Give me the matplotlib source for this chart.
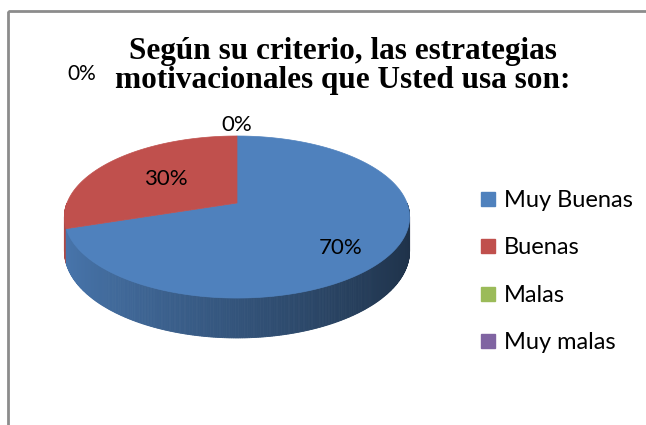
import numpy as np
import matplotlib
matplotlib.use("Agg")
import matplotlib.pyplot as plt
from matplotlib.lines import Line2D
from matplotlib.patches import Rectangle
from matplotlib.colors import to_rgb

# ---- data ----
categories = ["Muy Buenas", "Buenas", "Malas", "Muy malas"]
values = [70, 30, 0, 0]
pct_labels = ["70%", "30%", "0%", "0%"]
colors = ["#4F81BD", "#C0504D", "#9BBB59", "#8064A2"]
title = "Según su criterio, las estrategias\nmotivacionales que Usted usa son:"

# ---- layout (pixels in a 646x425 canvas) ----
W, H = 646, 425
CX, CY, A, B, K, DEPTH = 237, 203, 170, 78.6, 0.173, 33
LABEL_FONT = ["Lato", "DejaVu Sans"]

fig = plt.figure(figsize=(W / 100, H / 100), dpi=100)
ax = fig.add_axes([0, 0, 1, 1])
ax.set_xlim(0, W)
ax.set_ylim(H, 0)
ax.axis("off")

# chart frame (right/bottom cut off in the reference)
ax.add_patch(Rectangle((7.5, 10.5), W + 20, H + 20, fill=False,
                       edgecolor="#8C8C8C", linewidth=2))


def proj(t, r=1.0, z=0.0):
    u = r * np.cos(t)
    v = r * np.sin(t)
    s = 1.0 / (1.0 + K * v)
    return CX + A * u * s, CY - B * v * s + DEPTH * z * s


vals = np.array(values, dtype=float)
frac = vals / vals.sum()
cum = np.concatenate([[0], np.cumsum(frac)])
start = np.pi / 2
t_start = start - 2 * np.pi * cum[:-1]
t_end = start - 2 * np.pi * cum[1:]


def slice_of(t):
    off = ((start - t) % (2 * np.pi)) / (2 * np.pi)
    idx = np.searchsorted(cum, off, side="right") - 1
    return int(np.clip(idx, 0, len(values) - 1))


# side wall (front half), shaded left-light to right-dark
ts = np.linspace(-np.pi, 0, 361)
for t0, t1 in zip(ts[:-1], ts[1:]):
    tm = 0.5 * (t0 + t1)
    i = slice_of(tm)
    base = np.array(to_rgb(colors[i]))
    f = 0.65 - 0.27 * np.cos(tm)
    c = np.clip(base * f, 0, 1)
    x0a, y0a = proj(t0, 1, 0)
    x1a, y1a = proj(t1, 1, 0)
    x1b, y1b = proj(t1, 1, 1)
    x0b, y0b = proj(t0, 1, 1)
    ax.fill([x0a, x1a, x1b, x0b], [y0a, y1a, y1b, y0b], color=c,
            linewidth=0.6, edgecolor=c)

# top face
for i in range(len(values)):
    if values[i] <= 0:
        continue
    tt = np.linspace(t_start[i], t_end[i], 200)
    xs, ys = proj(tt, 1, 0)
    cx0, cy0 = proj(0.0, 0.0, 0)
    ax.fill(np.concatenate([[cx0], xs]), np.concatenate([[cy0], ys]),
            color=colors[i], linewidth=0.5, edgecolor=colors[i])

# data labels
label_r = [0.70, 0.55, 1.2, None]
label_z = [0.30, 0.0, 0.0, None]
label_size = [16, 16, 16, 15]
for i in range(len(values)):
    tm = 0.5 * (t_start[i] + t_end[i])
    if label_r[i] is None:
        x, y = 82, 74
    else:
        x, y = proj(tm, label_r[i], label_z[i])
    ax.text(x, y, pct_labels[i], ha="center", va="center",
            fontsize=label_size[i], family=LABEL_FONT, color="black")

# title
fig.text(343 / W, 1 - 66 / H, title, ha="center", va="center",
         fontsize=22.5, fontweight="bold", family=["Liberation Serif"],
         linespacing=1.03)

# legend
handles = [Line2D([], [], marker="s", linestyle="", color=c, markersize=10.5)
           for c in colors]
leg = ax.legend(handles, categories, loc="upper left",
                bbox_to_anchor=(480 / W, 1 - 190 / H), frameon=False,
                prop={"family": LABEL_FONT, "size": 17},
                handlelength=0.65, handletextpad=0.35, labelspacing=1.12,
                borderpad=0, borderaxespad=0)

fig.savefig("out.png", dpi=100)
